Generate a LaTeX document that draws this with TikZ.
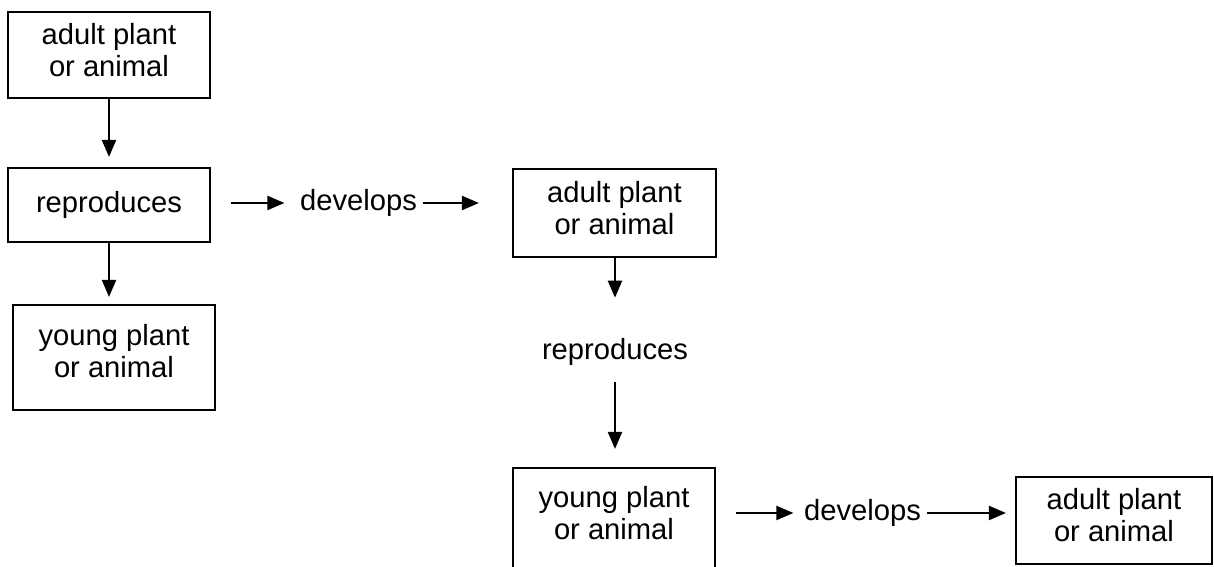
\documentclass[tikz,border=0pt]{standalone}
\usepackage{fontspec}
\setmainfont{Liberation Sans}
\usetikzlibrary{arrows.meta}

\begin{document}
\begin{tikzpicture}[
		box/.style={draw, line width=0.6pt, align=center, inner sep=0pt, text depth=3pt},
		word/.style={inner sep=0pt},
		flow/.style={-{Triangle[length=1.7mm,width=1.4mm]}, line width=0.6pt},
		font=\fontsize{8.3}{9.1}\selectfont
	]
		\useasboundingbox (0,0) rectangle (12.14,-5.67);
		\node [box, minimum width=2.02cm, minimum height=0.86cm] (adult1) at (1.09,-0.55) 
			{adult plant\\or animal};
		\node [box, text depth=2pt, minimum width=2.02cm, minimum height=0.74cm] (repro1) at (1.09,-2.05) 
			{reproduces};
		\node [box, text depth=3.5pt, minimum width=2.02cm, minimum height=1.05cm] (young1) at (1.14,-3.575) 
			{young plant\\or animal};
		\node [word] (devel1) at (3.585,-2.03) 
			{develops};
		\node [box, minimum width=2.03cm, minimum height=0.88cm] (adult2) at (6.145,-2.13) 
			{adult plant\\or animal};
		\node [word] (repro2) at (6.15,-3.52) 
			{reproduces};
		\node [box, text depth=4.5pt, minimum width=2.02cm, minimum height=1.05cm] (young2) at (6.14,-5.205) 
			{young plant\\or animal};
		\node [word] (devel2) at (8.625,-5.13) 
			{develops};
		\node [box, minimum width=1.96cm, minimum height=0.87cm] (adult3) at (11.14,-5.205) 
			{adult plant\\or animal};
		\draw [flow, shorten >=1mm] (adult1) to (repro1);
		\draw [flow, shorten >=0.7mm] (repro1.south) to (repro1.south |- young1.north);
		\draw [flow, shorten <=2mm, shorten >=1.5mm] (devel1.west -| repro1.east) to (devel1.west);
		\draw [flow, shorten <=0.5mm, shorten >=3.3mm] (devel1.east) to (devel1.east -| adult2.west);
		\draw [flow, shorten >=4mm] (adult2.south -| repro2) to (repro2.north);
		\draw [flow, shorten <=1.6mm, shorten >=1.8mm] (repro2.south) to (repro2.south |- young2.north);
		\draw [flow, shorten <=2mm, shorten >=1mm] (devel2.west -| young2.east) to (devel2.west);
		\draw [flow, shorten <=0.5mm, shorten >=0.9mm] (devel2.east) to (devel2.east -| adult3.west);
	\end{tikzpicture}
\end{document}
